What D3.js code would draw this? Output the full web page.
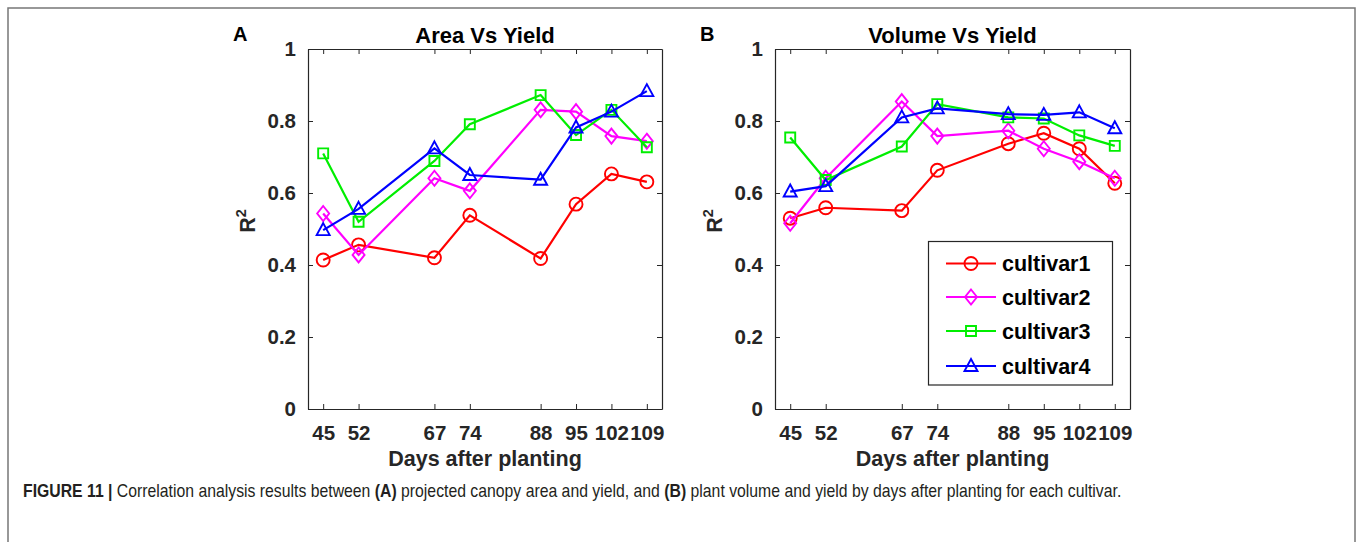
<!DOCTYPE html>
<html>
<head>
<meta charset="utf-8">
<script src="https://cdn.jsdelivr.net/npm/d3@7"></script>
<style>
  html, body { margin: 0; padding: 0; background: #fff; }
  svg { display: block; }
  text { font-family: "Liberation Sans", Arial, Helvetica, sans-serif; }
</style>
</head>
<body>
<svg id="fig" width="1358" height="542"></svg>
<script>
// Sampling days (days after planting)
const days = [45, 52, 67, 74, 88, 95, 102, 109];
const yTicks = [0, 0.2, 0.4, 0.6, 0.8, 1];
const cultivars = ["cultivar1", "cultivar2", "cultivar3", "cultivar4"];

// R² of projected canopy area vs yield
const areaCultivar1 = [0.414, 0.456, 0.420, 0.538, 0.418, 0.569, 0.653, 0.631];
const areaCultivar2 = [0.543, 0.428, 0.641, 0.606, 0.831, 0.826, 0.758, 0.744];
const areaCultivar3 = [0.710, 0.520, 0.689, 0.791, 0.872, 0.761, 0.831, 0.727];
const areaCultivar4 = [0.497, 0.556, 0.724, 0.650, 0.637, 0.782, 0.826, 0.883];

// R² of plant volume vs yield
const volumeCultivar1 = [0.530, 0.559, 0.551, 0.663, 0.737, 0.766, 0.723, 0.627];
const volumeCultivar2 = [0.516, 0.641, 0.854, 0.758, 0.773, 0.723, 0.687, 0.641];
const volumeCultivar3 = [0.754, 0.636, 0.729, 0.847, 0.810, 0.807, 0.760, 0.731];
const volumeCultivar4 = [0.604, 0.619, 0.810, 0.835, 0.819, 0.817, 0.824, 0.780];

const colors = ["#ff0000", "#ff00ff", "#00ee00", "#0000ff"];
const markers = ["circle", "diamond", "square", "triangle"];

const svg = d3.select("#fig");
const axisColor = "#262626";

// outer figure frame
svg.append("rect")
  .attr("x", 8).attr("y", 8)
  .attr("width", 1347).attr("height", 560)
  .attr("fill", "none").attr("stroke", "#777").attr("stroke-width", 1.5);

// marker path generator, centred on (0,0)
function markerPath(type) {
  switch (type) {
    case "circle": { const r = 6.5; return `M${r},0A${r},${r} 0 1,1 ${-r},0A${r},${r} 0 1,1 ${r},0Z`; }
    case "diamond": return "M0,-7.5L6,0L0,7.5L-6,0Z";
    case "square": return "M-5,-5H5V5H-5Z";
    case "triangle": return "M0,-7L6.5,5H-6.5Z";
  }
}

function drawPanel(opts) {
  const { left, right, top, bottom, title, letter, series } = opts;
  const x = d3.scaleLinear().domain([42, 112]).range([left, right]);
  const y = d3.scaleLinear().domain([0, 1]).range([bottom, top]);
  const g = svg.append("g");

  // box with inward ticks on all sides
  const fmt = d => d === 0 ? "0" : d === 1 ? "1" : d3.format(".1f")(d);
  const ax = [
    g.append("g").attr("transform", `translate(0,${bottom})`)
      .call(d3.axisBottom(x).tickValues(days).tickSize(-5).tickPadding(16).tickSizeOuter(0)),
    g.append("g").attr("transform", `translate(0,${top})`)
      .call(d3.axisTop(x).tickValues(days).tickSize(-5).tickFormat("").tickSizeOuter(0)),
    g.append("g").attr("transform", `translate(${left},0)`)
      .call(d3.axisLeft(y).tickValues(yTicks).tickFormat(fmt).tickSize(-5).tickPadding(12).tickSizeOuter(0)),
    g.append("g").attr("transform", `translate(${right},0)`)
      .call(d3.axisRight(y).tickValues(yTicks).tickSize(-5).tickFormat("").tickSizeOuter(0))
  ];
  ax.forEach(a => {
    a.select(".domain").attr("stroke", axisColor).attr("stroke-width", 1.2);
    a.selectAll(".tick line").attr("stroke", axisColor).attr("stroke-width", 1);
    a.selectAll(".tick text").attr("fill", axisColor)
      .style("font-size", "20.5px").style("font-weight", "bold")
      .style("font-family", '"Liberation Sans", Arial, sans-serif');
  });

  // title and panel letter
  g.append("text").attr("x", (left + right) / 2).attr("y", 43)
    .attr("text-anchor", "middle").style("font-size", "22px").style("font-weight", "bold")
    .attr("fill", "#000").text(title);
  g.append("text").attr("x", left - 75).attr("y", 41)
    .attr("font-size", 20).attr("font-weight", "bold").attr("fill", "#000").text(letter);

  // axis labels
  g.append("text").attr("x", (left + right) / 2).attr("y", 466)
    .attr("text-anchor", "middle").style("font-size", "21.5px").style("font-weight", "bold")
    .attr("fill", axisColor).text("Days after planting");
  const yl = g.append("text")
    .attr("transform", `translate(${left - 53},221) rotate(-90)`)
    .attr("text-anchor", "middle").style("font-size", "21.5px").style("font-weight", "bold")
    .attr("fill", axisColor);
  yl.append("tspan").text("R");
  yl.append("tspan").attr("dy", -9).style("font-size", "14.5px").text("2");

  // lines and markers
  const line = d3.line().x((d, i) => x(days[i])).y(d => y(d));
  series.forEach((vals, k) => {
    g.append("path").datum(vals).attr("d", line)
      .attr("fill", "none").attr("stroke", colors[k]).attr("stroke-width", 2.2);
    g.selectAll(null).data(vals).join("path")
      .attr("transform", (d, i) => `translate(${x(days[i])},${y(d)})`)
      .attr("d", markerPath(markers[k]))
      .attr("fill", "none").attr("stroke", colors[k]).attr("stroke-width", 1.9);
  });
  return g;
}

drawPanel({
  left: 308, right: 662, top: 49, bottom: 409,
  title: "Area Vs Yield", letter: "A",
  series: [areaCultivar1, areaCultivar2, areaCultivar3, areaCultivar4]
});
const panelB = drawPanel({
  left: 775, right: 1130, top: 49, bottom: 409,
  title: "Volume Vs Yield", letter: "B",
  series: [volumeCultivar1, volumeCultivar2, volumeCultivar3, volumeCultivar4]
});

// legend in panel B
const leg = panelB.append("g");
leg.append("rect").attr("x", 928.5).attr("y", 241.5).attr("width", 184).attr("height", 143.5)
  .attr("fill", "#fff").attr("stroke", axisColor).attr("stroke-width", 1.2);
const rowY = [263.5, 297, 331, 366];
cultivars.forEach((name, k) => {
  leg.append("line").attr("x1", 946).attr("x2", 996).attr("y1", rowY[k]).attr("y2", rowY[k])
    .attr("stroke", colors[k]).attr("stroke-width", 2.2);
  leg.append("path").attr("transform", `translate(971,${rowY[k]})`)
    .attr("d", markerPath(markers[k]))
    .attr("fill", "none").attr("stroke", colors[k]).attr("stroke-width", 1.9);
  leg.append("text").attr("x", 1002).attr("y", rowY[k]).attr("dy", "0.36em")
    .style("font-size", "21.5px").style("font-weight", "bold").attr("fill", "#000").text(name);
});

// caption: a condensed line, squeezed horizontally to the column width
const capG = svg.append("g");
const cap = capG.append("text").attr("x", 0).attr("y", 0)
  .attr("font-size", 17.5).attr("fill", "#231f20");
const parts = [
  ["FIGURE 11 |", true], [" Correlation analysis results between ", false], ["(A)", true],
  [" projected canopy area and yield, and ", false], ["(B)", true],
  [" plant volume and yield by days after planting for each cultivar.", false]
];
parts.forEach(([t, b]) => cap.append("tspan").attr("font-weight", b ? "bold" : "normal").text(t));
const capWidth = cap.node().getComputedTextLength();
const sx = Math.min(1, 1099 / capWidth);
capG.attr("transform", `translate(23,497) scale(${sx},1)`);
</script>
</body>
</html>
